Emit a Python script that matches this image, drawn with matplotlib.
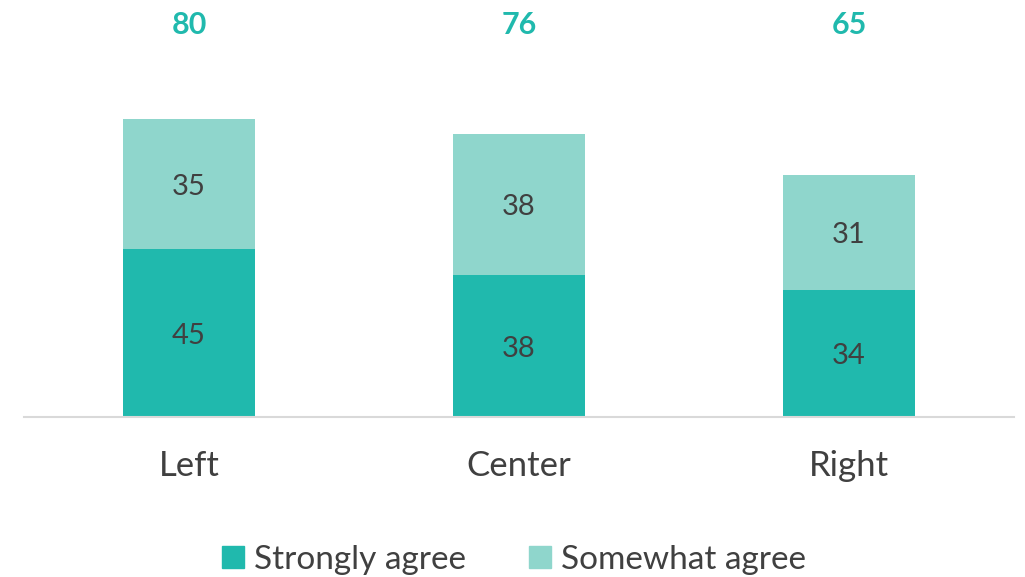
import matplotlib
matplotlib.use("Agg")
import matplotlib.pyplot as plt
from matplotlib.patches import Patch

categories = ["Left", "Center", "Right"]
strongly = [45, 38, 34]
somewhat = [35, 38, 31]
totals = [80, 76, 65]

dark = "#20B9AD"
light = "#8FD6CC"
txt = "#404040"

plt.rcParams['font.family'] = ['Lato', 'DejaVu Sans']

fig = plt.figure(figsize=(10.25, 5.77), dpi=100)
ax = fig.add_axes([24/1025, 1 - 417/577, 990/1025, 417/577])
x = range(len(categories))
b1 = ax.bar(x, strongly, width=0.4, color=dark)
b2 = ax.bar(x, somewhat, width=0.4, bottom=strongly, color=light)
ax.set_xlim(-0.5, 2.5)
ax.set_ylim(0, 417/3.725)
for i in x:
    ax.text(i, strongly[i]/2, str(strongly[i]), ha='center', va='center_baseline', fontsize=21,
            color=txt)
    ax.text(i, strongly[i] + somewhat[i]/2, str(somewhat[i]), ha='center', va='center_baseline',
            fontsize=21, color=txt)
    ax.text(i, 1 - 23/417, str(totals[i]), transform=ax.get_xaxis_transform(), ha='center',
            va='center_baseline', fontsize=22, fontweight='bold', color=dark)
for s in ['top', 'right', 'left']:
    ax.spines[s].set_visible(False)
ax.spines['bottom'].set_color('#D9D9D9')
ax.spines['bottom'].set_linewidth(1.5)
ax.set_yticks([])
ax.set_xticks(list(x))
ax.set_xticklabels(categories, fontsize=25, color=txt)
ax.tick_params(axis='x', length=0, pad=24)
handles = [Patch(color=dark, label="Strongly agree"), Patch(color=light, label="Somewhat agree")]
fig.legend(handles=handles, loc='center', bbox_to_anchor=(514/1025, 1 - 560/577), ncol=2, frameon=False,
           prop={'size': 24}, labelcolor=txt, handlelength=0.65, handleheight=0.65,
           handletextpad=0.3, columnspacing=1.9)
fig.savefig("out.png", dpi=100)
